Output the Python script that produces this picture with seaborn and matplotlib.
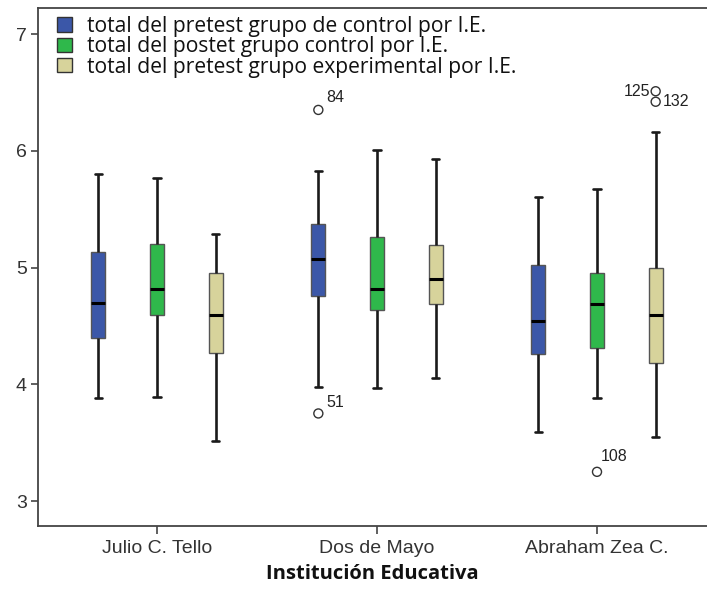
import numpy as np
import pandas as pd
import matplotlib
matplotlib.use("Agg")
import matplotlib.pyplot as plt
import seaborn as sns

# ---------------- data ----------------
institutions = ["Julio C. Tello", "Dos de Mayo", "Abraham Zea C."]
groups = [
    "total del pretest grupo de control por I.E.",
    "total del postet grupo control por I.E.",
    "total del pretest grupo experimental por I.E.",
]
# five-number summaries: [lower whisker, Q1, median, Q3, upper whisker]
pre_control = [
    [3.88, 4.40, 4.70, 5.13, 5.80],
    [3.98, 4.76, 5.07, 5.37, 5.83],
    [3.59, 4.26, 4.54, 5.02, 5.60],
]
post_control = [
    [3.89, 4.59, 4.82, 5.20, 5.77],
    [3.97, 4.64, 4.82, 5.26, 6.01],
    [3.88, 4.31, 4.69, 4.95, 5.67],
]
pre_experimental = [
    [3.51, 4.27, 4.59, 4.95, 5.29],
    [4.05, 4.69, 4.90, 5.19, 5.93],
    [3.55, 4.18, 4.59, 5.00, 6.16],
]
# outliers
out_inst = ["Dos de Mayo", "Dos de Mayo", "Abraham Zea C.", "Abraham Zea C.", "Abraham Zea C."]
out_group = [groups[0], groups[0], groups[1], groups[2], groups[2]]
out_value = [6.35, 3.75, 3.25, 6.51, 6.42]
out_label = ["84", "51", "108", "125", "132"]

colors = ["#3B57A8", "#2FB84B", "#D7D39B"]

# ---------------- long-form table ----------------
rows = []
for g, series in zip(groups, [pre_control, post_control, pre_experimental]):
    for inst, vals in zip(institutions, series):
        for v in vals:
            rows.append({"inst": inst, "group": g, "value": v})
df = pd.DataFrame(rows)
df_out = pd.DataFrame({"inst": out_inst, "group": out_group, "value": out_value})

# ---------------- figure ----------------
sns.set_theme(style="white")
plt.rcParams["font.family"] = ["Liberation Sans", "DejaVu Sans"]

fig = plt.figure(figsize=(7.07, 5.89), dpi=100)
ax = fig.add_axes([38 / 707, 1 - 526 / 589, 1 - 38 / 707, (526 - 8) / 589])

line_col = "#1a1a1a"
sns.boxplot(
    data=df, x="inst", y="value", hue="group",
    order=institutions, hue_order=groups, palette=colors, saturation=1,
    width=0.8, gap=0.76, whis=1.5, showfliers=False,
    linecolor=line_col, linewidth=1.6,
    boxprops=dict(edgecolor="#555555", linewidth=1.0),
    medianprops=dict(color="black", linewidth=2.2),
    whiskerprops=dict(color=line_col, linewidth=1.9),
    capprops=dict(color=line_col, linewidth=1.9),
    ax=ax,
)

sns.stripplot(
    data=df_out, x="inst", y="value", hue="group",
    order=institutions, hue_order=groups, palette=colors,
    dodge=True, jitter=False, size=6.5, marker="o",
    legend=False, ax=ax,
)
for coll in ax.collections:
    coll.set_facecolor("none")
    coll.set_edgecolor("#333333")
    coll.set_linewidth(1.0)

# outlier labels
slot = 0.8 / len(groups)
offsets = {"84": (6, 9, "left"), "51": (6, 8, "left"), "108": (3, 11, "left"),
           "125": (-4, 0, "right"), "132": (5, 0, "left")}
for inst, g, v, lab in zip(out_inst, out_group, out_value, out_label):
    xpos = institutions.index(inst) + (groups.index(g) - 1) * slot
    dx, dy, ha = offsets[lab]
    ax.annotate(lab, (xpos, v), xytext=(dx, dy), textcoords="offset points",
                ha=ha, va="center", fontsize=11.5, color="#222222")

ax.set_xlim(-0.541, 2.5)
ax.set_ylim(2.786, 7.223)
ax.set_yticks([3, 4, 5, 6, 7])
ax.set_yticklabels(["3", "4", "5", "6", "7"])
ax.set_ylabel("")
ax.set_xlabel("Institución Educativa", fontsize=14.5, fontweight="bold",
              fontfamily=["Open Sans", "DejaVu Sans"], labelpad=5, color="#111111")

for s in ["left", "bottom", "top"]:
    ax.spines[s].set_visible(True)
    ax.spines[s].set_color("#444444")
    ax.spines[s].set_linewidth(1.3)
ax.spines["right"].set_visible(False)

ax.tick_params(axis="both", which="major", direction="out", length=5, width=1.2,
               color="#444444", labelsize=14, labelcolor="#333333", pad=3)
ax.tick_params(axis="x", length=6, pad=4)
ax.tick_params(bottom=True, left=True)

leg = ax.legend(loc="upper left", bbox_to_anchor=(0.0284, 0.985), frameon=False,
                prop={"family": ["Open Sans", "DejaVu Sans"], "size": 15.2},
                handlelength=0.72, handleheight=0.67, handletextpad=0.7,
                labelspacing=-0.03, borderaxespad=0, borderpad=0.0)
for h in leg.legend_handles:
    h.set_edgecolor("#333333")
    h.set_linewidth(1.0)
for t in leg.get_texts():
    t.set_color("#111111")

fig.savefig("out.png", dpi=100)
